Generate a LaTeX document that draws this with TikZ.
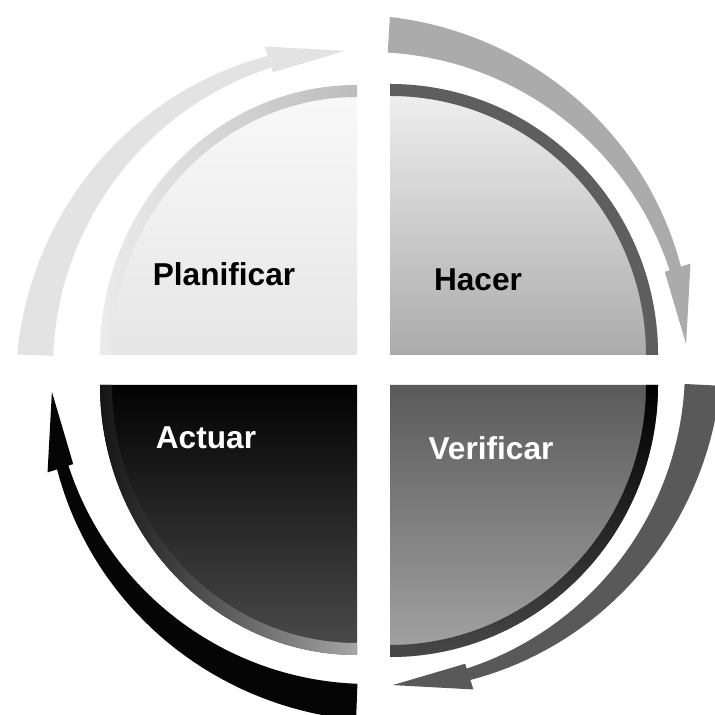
\documentclass[tikz,border=0pt]{standalone}
\usepackage{fontspec}
\setmainfont{Liberation Sans}
\definecolor{planTop}{HTML}{F9F9F9}
\definecolor{planBottom}{HTML}{E6E6E6}
\definecolor{doTop}{HTML}{F1F1F1}
\definecolor{doBottom}{HTML}{ABABAB}
\definecolor{checkTop}{HTML}{5A5A5A}
\definecolor{checkBottom}{HTML}{A4A4A4}
\definecolor{actTop}{HTML}{020202}
\definecolor{actBottom}{HTML}{4C4C4C}
\begin{document}
\begin{tikzpicture}[pdcaLabel/.style={font=\bfseries\fontsize{18}{20}\selectfont, inner sep=0pt}]
% PDCA wheel, one unit = one pixel of the source figure
\def\pxsz{0.02cm}
% #1 colour, #2 rotation, #3 tail angle (cut along the gap)
\providecommand{\pdcaArrow}[3]{%
  \fill[#1, rotate=#2]
    plot[domain=#3:108, samples=40, variable=\t] (\t:{328+24*(\t-108)/69.5})
    -- (108:338) -- (94.3:318) -- (108:311) -- (108:316)
    arc[start angle=108, end angle=#3, radius=316] -- cycle;}
\begin{scope}[x=\pxsz, y=\pxsz, line join=round]
  % Page
  \fill[white] (-373,-345) rectangle (342,370);
  \useasboundingbox (-373,-345) rectangle (342,370);
  % Outer arrows, clockwise
  \begin{scope}[shift={(-4,2)}]
    \pdcaArrow{black!11}{0}{177.8}
    \pdcaArrow{black!33}{-90}{176.6}
    \pdcaArrow{black!65}{-180}{177.1}
    \pdcaArrow{black!98}{-270}{177.9}
  \end{scope}
  % Quadrants
  \shade[top color=planTop, bottom color=planBottom]
    (-16,15) -- (-273,15) arc[start angle=180, end angle=90, x radius=257, y radius=270] -- cycle;
  \shade[top color=doTop, bottom color=doBottom]
    (17,15) -- (17,286) arc[start angle=90, end angle=0, x radius=268, y radius=271] -- cycle;
  \shade[top color=checkTop, bottom color=checkBottom]
    (17,-15) -- (285,-15) arc[start angle=0, end angle=-90, x radius=268, y radius=272] -- cycle;
  \shade[top color=actTop, bottom color=actBottom]
    (-16,-15) -- (-16,-285) arc[start angle=270, end angle=180, x radius=257, y radius=270] -- cycle;
  % Rims along the arcs
  \shade[left color=planBottom!80!white, middle color=black!17, right color=black!26]
    (-16,285) arc[start angle=90, end angle=180, x radius=257, y radius=270]
    -- (-261,15) arc[start angle=180, end angle=90, x radius=245, y radius=258] -- cycle;
  \fill[black!63]
    (17,286) arc[start angle=90, end angle=0, x radius=268, y radius=271]
    -- (273,15) arc[start angle=0, end angle=90, x radius=256, y radius=259] -- cycle;
  \shade[top color=black, bottom color=black!72]
    (285,-15) arc[start angle=0, end angle=-90, x radius=268, y radius=272]
    -- (17,-275) arc[start angle=-90, end angle=0, x radius=256, y radius=260] -- cycle;
  \shade[left color=black!92, middle color=black!48, right color=black!35]
    (-16,-285) arc[start angle=270, end angle=180, x radius=257, y radius=270]
    -- (-261,-15) arc[start angle=180, end angle=270, x radius=245, y radius=258] -- cycle;
  % Labels
  \node[pdcaLabel] (plan) at (-149,96) {Planificar};
  \node[pdcaLabel] (do) at (105,90) {Hacer};
  \node[pdcaLabel, text=white] (act) at (-167,-68) {Actuar};
  \node[pdcaLabel, text=white] (check) at (118,-78) {Verificar};
\end{scope}
\end{tikzpicture}
\end{document}
